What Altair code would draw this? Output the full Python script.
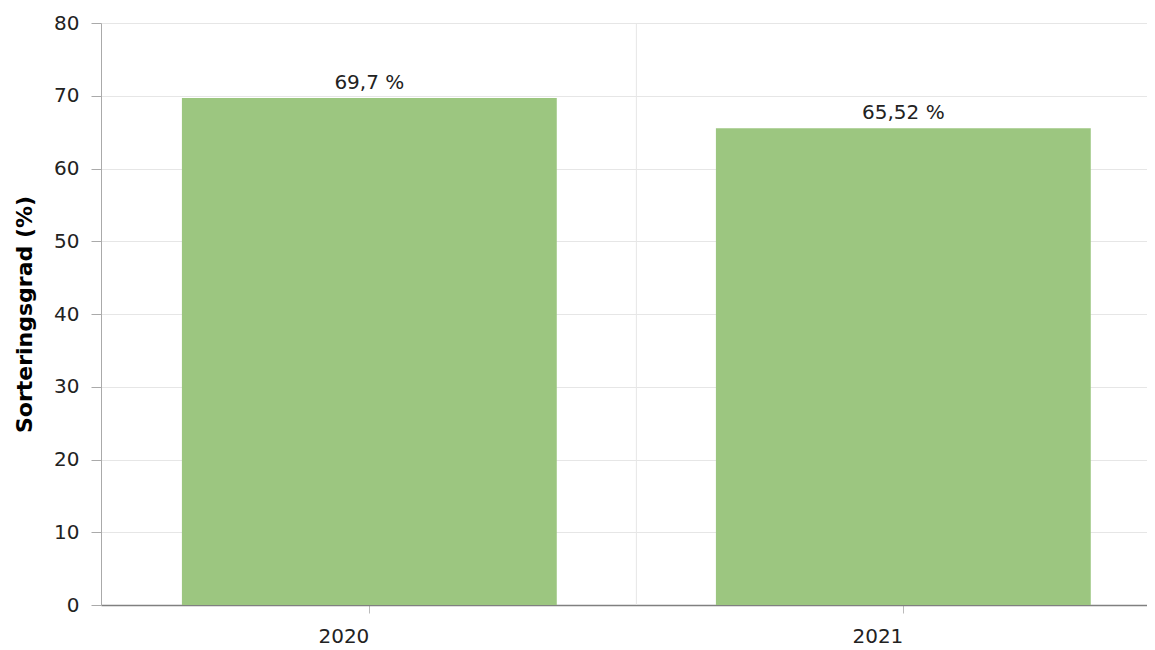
import altair as alt
import pandas as pd

years = ["2020", "2021"]
values = [69.7, 65.52]
grid_after = ["2020"]

df = pd.DataFrame({"year": years, "value": values})
gdf = pd.DataFrame({"year": grid_after})

FONT = "DejaVu Sans"

xscale = alt.Scale(paddingInner=0.298, paddingOuter=0.1284, align=0.59)

x_enc = alt.X(
    "year:N",
    scale=xscale,
    sort=years,
    axis=alt.Axis(
        title=None, labelAngle=0, grid=False, ticks=True, tickSize=8,
        tickColor="#bbbbbb", domainColor="#808080", domainWidth=1.5,
        labelPadding=23, labelFontSize=20, labelColor="#222222", labelFont=FONT,
    ),
)

bars = alt.Chart(df).mark_bar(color="#9cc680").encode(
    x=x_enc,
    y=alt.Y(
        "value:Q",
        scale=alt.Scale(domain=[0, 80], nice=False),
        axis=alt.Axis(
            values=[0, 10, 20, 30, 40, 50, 60, 70, 80],
            title="Sorteringsgrad (%)", titleFontSize=22, titleFont=FONT,
            titleFontWeight="bold", titleColor="#000000", titlePadding=17,
            labelFontSize=20, labelFont=FONT, labelColor="#222222",
            labelPadding=12, tickSize=10, tickColor="#aaaaaa",
            domainColor="#aaaaaa", gridColor="#e6e6e6",
        ),
    ),
)

vgrid = alt.Chart(gdf).mark_rule(color="#e6e6e6", strokeWidth=1, xOffset=79.6).encode(
    x=alt.X("year:N", scale=xscale, sort=years, bandPosition=1),
)

labels = alt.Chart(df).transform_calculate(
    label="replace(toString(datum.value), '.', ',') + ' %'"
).mark_text(baseline="alphabetic", dy=-9, fontSize=20, font=FONT, color="#222222").encode(
    x=alt.X("year:N", scale=xscale, sort=years),
    y=alt.Y("value:Q"),
    text="label:N",
)

chart = alt.layer(vgrid, bars, labels).properties(
    width=1046, height=582,
    autosize=alt.AutoSizeParams(type="none"),
    padding={"left": 93, "top": 15, "right": 0, "bottom": 43},
).configure_view(stroke=None)

chart.save("out.html", embed_options={"renderer": "svg", "actions": False})
